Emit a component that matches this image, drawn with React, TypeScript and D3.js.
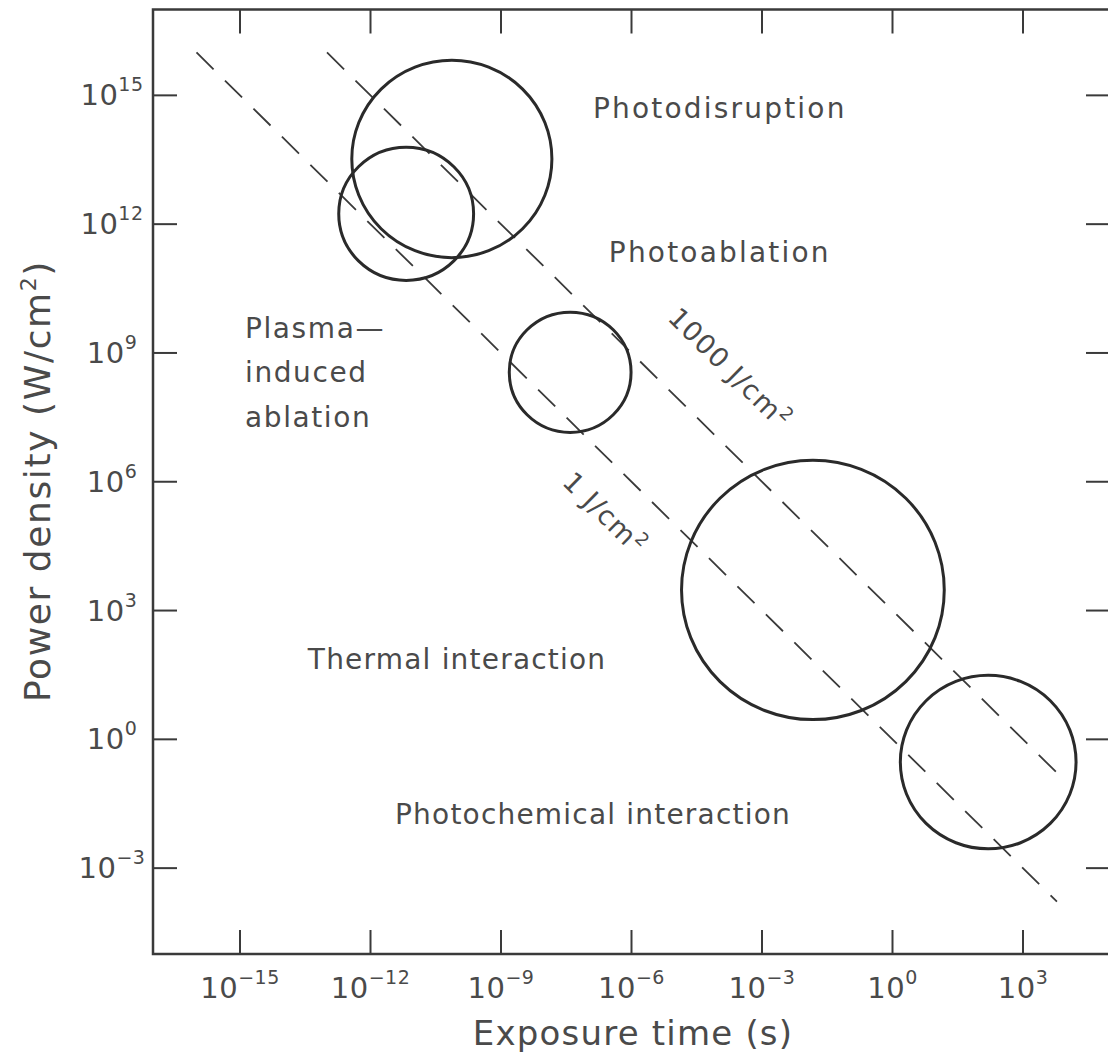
import React from 'react';
import * as d3 from 'd3';

/* ── Data (log10 units) ─────────────────────────────────────────── */
const xTickExps = [-15, -12, -9, -6, -3, 0, 3];
const yTickExps = [-3, 0, 3, 6, 9, 12, 15];

// interaction regions: centre (log10 t, log10 P) and radius in decades
const regionT = [-10.13, -11.18, -7.41, -1.83, 2.2];
const regionP = [13.52, 12.24, 8.55, 3.48, -0.53];
const regionR = [2.3, 1.55, 1.4, 3.02, 2.02];

// constant fluence lines P = F / t  (start / end in log10 t)
const fluenceJ = [1, 1000];
const fluenceStart = [-16, -13];
const fluenceEnd = [3.78, 3.85];

// annotations
const regionLabels = ['Photodisruption', 'Photoablation', 'Thermal interaction', 'Photochemical interaction'];
const regionLabelT = [-3.97, -3.97, -10.01, -6.885];
const regionLabelP = [14.47, 11.12, 1.64, -1.97];
const plasmaLines = ['Plasma\u2014', 'induced', 'ablation'];
const plasmaT = -14.885;
const plasmaP = [9.35, 8.32, 7.275];
const fluenceLabelMain = ['1000 J/cm', '1 J/cm'];
const fluenceLabelT = [-3.897, -6.77];
const fluenceLabelP = [8.486, 5.11];

const W = 1108;
const H = 1056;
const frame = { left: 153, top: 9.5, right: 1110, bottom: 954 };
const FONT = "'DejaVu Sans', sans-serif";
const INK = '#2a2a2a';
const TEXT = '#4a4a4a';

const App: React.FC = () => {
  const x = d3.scaleLog().domain([1e-17, 1e5]).range([frame.left, frame.right]);
  const y = d3.scaleLog().domain([1e-5, 1e17]).range([frame.bottom, frame.top]);
  const X = (e: number) => x(Math.pow(10, e));
  const Y = (e: number) => y(Math.pow(10, e));
  const angle = (Math.atan2(Y(0) - Y(1), X(1) - X(0)) * 180) / Math.PI;

  // points are [log t, log P]
  const line = d3
    .line<[number, number]>()
    .x(d => X(d[0]))
    .y(d => Y(d[1]));

  const tickLen = 24;
  const supText = (e: number) => (e < 0 ? '\u2212' + Math.abs(e) : String(e));

  return (
    <svg
      width={W}
      height={H}
      style={{ position: 'absolute', left: 0, top: 0, background: '#fff' }}
      fontFamily={FONT}
    >
      {/* frame */}
      <rect
        x={frame.left}
        y={frame.top}
        width={frame.right - frame.left}
        height={frame.bottom - frame.top}
        fill="none"
        stroke="#3a3a3a"
        strokeWidth={2.5}
      />

      {/* x ticks (bottom + top, inward) */}
      {xTickExps.map(e => (
        <g key={'xt' + e} stroke="#3a3a3a" strokeWidth={2}>
          <line x1={X(e)} x2={X(e)} y1={frame.bottom} y2={frame.bottom - tickLen} />
          <line x1={X(e)} x2={X(e)} y1={frame.top} y2={frame.top + tickLen} />
        </g>
      ))}
      {/* y ticks (left + right, inward) */}
      {yTickExps.map(e => (
        <g key={'yt' + e} stroke="#3a3a3a" strokeWidth={2}>
          <line x1={frame.left} x2={frame.left + tickLen} y1={Y(e)} y2={Y(e)} />
          <line x1={frame.right} x2={frame.right - tickLen} y1={Y(e)} y2={Y(e)} />
        </g>
      ))}

      {/* x tick labels */}
      {xTickExps.map(e => (
        <text key={'xl' + e} x={X(e)} y={998} textAnchor="middle" fill={TEXT} fontSize={29} letterSpacing={0.5}>
          <tspan>10</tspan>
          <tspan dy={-14} fontSize={19}>
            {supText(e)}
          </tspan>
        </text>
      ))}
      {/* y tick labels */}
      {yTickExps.map(e => (
        <text key={'yl' + e} x={112} y={Y(e) + 10} textAnchor="middle" fill={TEXT} fontSize={29} letterSpacing={0.5}>
          <tspan>10</tspan>
          <tspan dy={-14} fontSize={19}>
            {supText(e)}
          </tspan>
        </text>
      ))}

      {/* axis titles */}
      <text x={633} y={1045} textAnchor="middle" fill={TEXT} fontSize={34} letterSpacing={1.2}>
        Exposure time (s)
      </text>
      <text
        transform={`translate(50,481) rotate(-90)`}
        textAnchor="middle"
        fill={TEXT}
        fontSize={36}
        letterSpacing={1.6}
      >
        <tspan>Power density (W/cm</tspan>
        <tspan dy={-14} fontSize={22}>2</tspan>
        <tspan dy={14}>)</tspan>
      </text>

      {/* constant fluence lines: log P = log F - log t */}
      {fluenceJ.map((F, i) => {
        const logF = Math.log10(F);
        const pts: [number, number][] = [fluenceStart[i], fluenceEnd[i]].map(t => [t, logF - t]);
        return (
          <path
            key={'f' + F}
            d={line(pts)!}
            fill="none"
            stroke="#3a3a3a"
            strokeWidth={1.8}
            strokeDasharray="24 16"
          />
        );
      })}

      {/* interaction regions */}
      {regionT.map((t, i) => (
        <ellipse
          key={'c' + i}
          cx={X(t)}
          cy={Y(regionP[i])}
          rx={X(t + regionR[i]) - X(t)}
          ry={Y(regionP[i]) - Y(regionP[i] + regionR[i])}
          fill="none"
          stroke={INK}
          strokeWidth={3}
        />
      ))}

      {/* region labels */}
      {regionLabels.map((s, i) => (
        <text
          key={s}
          x={X(regionLabelT[i])}
          y={Y(regionLabelP[i])}
          textAnchor="middle"
          fill={TEXT}
          fontSize={28}
          letterSpacing={i < 2 ? 2.2 : 1.2}
        >
          {s}
        </text>
      ))}
      {plasmaLines.map((s, i) => (
        <text key={s} x={X(plasmaT)} y={Y(plasmaP[i])} fill={TEXT} fontSize={28} letterSpacing={1.6}>
          {s}
        </text>
      ))}

      {/* fluence labels */}
      {fluenceLabelMain.map((s, i) => (
        <text
          key={s}
          transform={`translate(${X(fluenceLabelT[i])},${Y(fluenceLabelP[i])}) rotate(${angle})`}
          textAnchor="middle"
          fill={TEXT}
          fontSize={27}
          letterSpacing={1.2}
        >
          <tspan>{s}</tspan>
          <tspan dy={-11} fontSize={18}>2</tspan>
        </text>
      ))}
    </svg>
  );
};

export default App;
